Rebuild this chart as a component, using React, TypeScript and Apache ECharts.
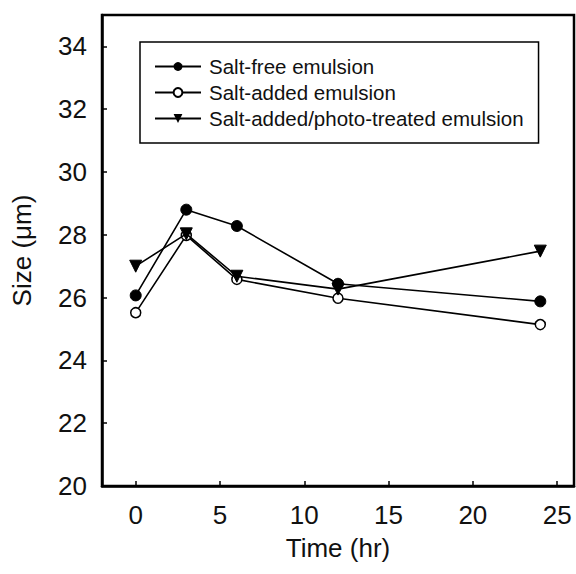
import React, { useEffect, useRef } from "react";
import * as echarts from "echarts";

const times = [0, 3, 6, 12, 24];
const saltFree = [26.07, 28.8, 28.28, 26.44, 25.88];
const saltAdded = [25.52, 27.98, 26.58, 25.98, 25.14];
const photoTreated = [27.0, 28.03, 26.68, 26.27, 27.48];
const xTicks = [0, 5, 10, 15, 20, 25];
const yTicks = [20, 22, 24, 26, 28, 30, 32, 34];
const seriesNames = [
  "Salt-free emulsion",
  "Salt-added emulsion",
  "Salt-added/photo-treated emulsion",
];

const FONT = "Liberation Sans, Arial, Helvetica, sans-serif";

function pairs(vals: number[]) {
  return times.map((t, i) => [t, vals[i]]);
}

export default function App() {
  const ref = useRef<HTMLDivElement>(null);
  useEffect(() => {
    if (!ref.current) return;
    const chart = echarts.init(ref.current, undefined, { renderer: "svg" });
    const lineStyle = { color: "#000", width: 1.6 };
    chart.setOption({
      animation: false,
      backgroundColor: "#fff",
      grid: {
        left: 102,
        right: 2,
        top: 15,
        bottom: 88,
        show: true,
        borderColor: "#000",
        borderWidth: 2.5,
        backgroundColor: "transparent",
      },
      legend: {
        orient: "vertical",
        left: 140,
        top: 42,
        padding: [14, 15, 14, 14],
        borderColor: "#000",
        borderWidth: 1.5,
        itemWidth: 46,
        itemHeight: 11,
        itemGap: 5,
        textStyle: { fontFamily: FONT, fontSize: 20.5, color: "#111", padding: [0, 0, 0, 3] },
        data: seriesNames,
      },
      xAxis: {
        type: "value",
        min: -2,
        max: 26,
        splitLine: { show: false },
        axisLine: { show: true, onZero: false, lineStyle: { color: "#000", width: 2.5 } },
        axisTick: {
          inside: true,
          length: 5,
          lineStyle: { color: "#000", width: 1.5 },
          customValues: xTicks,
        },
        axisLabel: {
          customValues: xTicks,
          fontFamily: FONT,
          fontSize: 26,
          color: "#111",
          margin: 16,
        },
        name: "Time (hr)",
        nameLocation: "middle",
        nameGap: 49,
        nameTextStyle: { fontFamily: FONT, fontSize: 26, color: "#111" },
      },
      yAxis: {
        type: "value",
        min: 20,
        max: 35,
        splitLine: { show: false },
        axisLine: { show: true, onZero: false, lineStyle: { color: "#000", width: 2.5 } },
        axisTick: {
          inside: true,
          length: 5,
          lineStyle: { color: "#000", width: 1.5 },
          customValues: yTicks,
        },
        axisLabel: {
          customValues: yTicks,
          fontFamily: FONT,
          fontSize: 26,
          color: "#111",
          margin: 15,
        },
        name: "Size (\u03bcm)",
        nameLocation: "middle",
        nameGap: 67,
        nameTextStyle: { fontFamily: FONT, fontSize: 26, color: "#111" },
      },
      series: [
        {
          name: seriesNames[0],
          type: "line",
          data: pairs(saltFree),
          symbol: "circle",
          symbolSize: 11,
          lineStyle,
          itemStyle: { color: "#000", borderColor: "#000" },
          z: 3,
        },
        {
          name: seriesNames[1],
          type: "line",
          data: pairs(saltAdded),
          symbol: "circle",
          symbolSize: 10,
          lineStyle,
          itemStyle: { color: "#fff", borderColor: "#000", borderWidth: 1.5 },
          z: 2,
        },
        {
          name: seriesNames[2],
          type: "line",
          data: pairs(photoTreated),
          symbol: "triangle",
          symbolRotate: 180,
          symbolSize: 12,
          lineStyle,
          itemStyle: { color: "#000", borderColor: "#000" },
          z: 4,
        },
      ],
    });
    return () => chart.dispose();
  }, []);
  return (
    <div
      ref={ref}
      style={{ position: "fixed", left: 0, top: 0, width: 576, height: 574, background: "#fff" }}
    />
  );
}
